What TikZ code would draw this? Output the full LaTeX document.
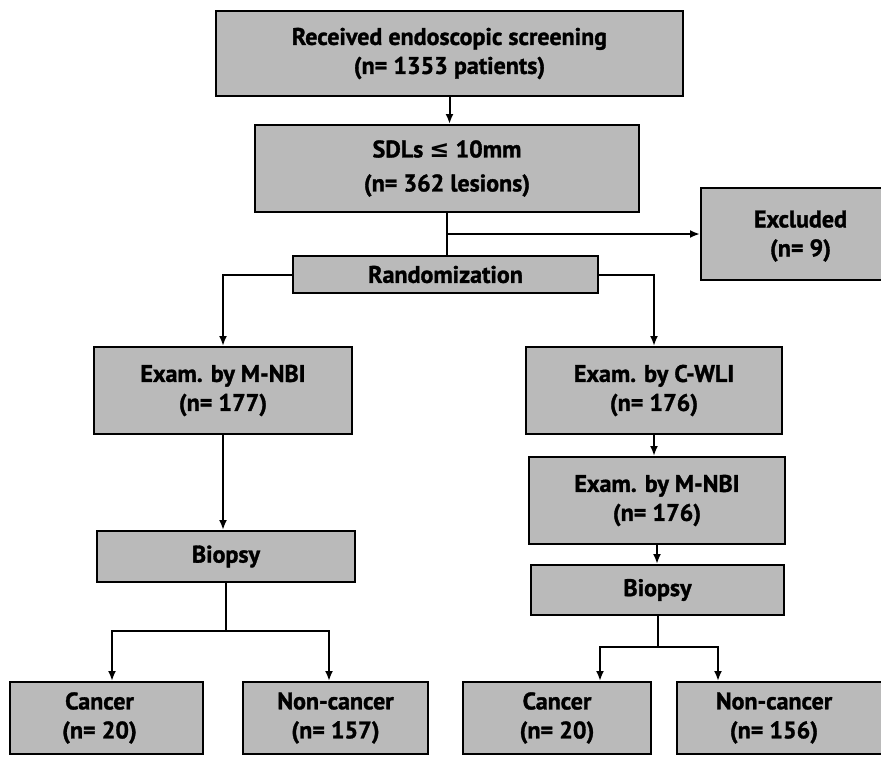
\documentclass[tikz,border=0pt]{standalone}
\usepackage{fontspec}
\setmainfont{PT Sans}[BoldFeatures={FakeBold=1.3}]
\newfontfamily\dvsans{DejaVu Sans}
\usepackage{tikz}
\usetikzlibrary{arrows.meta,positioning,calc}

\begin{document}
\begin{tikzpicture}[x=1pt,y=-1pt,
	box/.style={draw=black,line width=2pt,fill=black!27,align=center,
		inner sep=0pt,font=\fontsize{24}{29}\selectfont\bfseries},
	link/.style={line width=2pt},
	arr/.style={line width=2pt,-{Latex[length=10pt,width=8pt]}}]

	\useasboundingbox (0,0) rectangle (881,756);
	\fill[white] (0,0) rectangle (881,756);

	% top of the chart
	\node[box,minimum width=467pt,minimum height=85pt] (recv) at (449.5,53.5)
		{Received endoscopic screening\\(n= 1353 patients)};
	\node[box,minimum width=384pt,minimum height=87pt] (sdl) at (447,168.5)
		{SDLs {\dvsans\bfseries ≤} 10mm\\[5pt](n= 362 lesions)};
	\node[box,minimum width=189pt,minimum height=92pt] (excl) at (795.5,234)
		{\\[-8pt]\hspace*{10pt}Excluded\\\hspace*{10pt}(n= 9)};
	\node[box,minimum width=305pt,minimum height=37pt] (rand) at (445.5,274.5)
		{Randomization};

	% M-NBI arm
	\node[box,minimum width=258pt,minimum height=87pt] (mnbiL) at (223,390.5)
		{Exam. by M-NBI\\(n= 177)};
	\node[box,minimum width=258pt,minimum height=51pt] (biopL) at (226,556.5)
		{Biopsy};
	\node[box,minimum width=193pt,minimum height=72pt] (cancL) at (106.5,718)
		{\hspace*{-14pt}Cancer\\\hspace*{-14pt}(n= 20)};
	\node[box,minimum width=185pt,minimum height=72pt] (noncL) at (335.5,718)
		{Non-cancer\\(n= 157)};

	% C-WLI arm
	\node[box,minimum width=256pt,minimum height=87pt] (cwli) at (654,390.5)
		{Exam. by C-WLI\\(n= 176)};
	\node[box,minimum width=256pt,minimum height=87pt] (mnbiR) at (657,500.5)
		{Exam. by M-NBI\\(n= 176)};
	\node[box,minimum width=253pt,minimum height=50pt] (biopR) at (657.5,590)
		{Biopsy};
	\node[box,minimum width=188pt,minimum height=72pt] (cancR) at (557,718)
		{Cancer\\(n= 20)};
	\node[box,minimum width=213pt,minimum height=72pt] (noncR) at (783.5,718)
		{\hspace*{-19pt}Non-cancer\\\hspace*{-19pt}(n= 156)};

	\coordinate (split) at (sdl.south |- excl.west);
	\coordinate (forkL) at (226,631);
	\coordinate (forkR) at (657.5,647);

	% connectors
	\draw[arr] (recv.south) -- (recv.south |- sdl.north);
	\draw[link] (sdl.south) -- (sdl.south |- rand.north);
	\draw[arr] (split) -- (excl.west);
	\draw[arr] (rand.west) -| (mnbiL.north);
	\draw[arr] (rand.east) -| (cwli.north);

	\draw[arr] (mnbiL.south) -- (mnbiL.south |- biopL.north);
	\draw[link] (biopL.south) -- (forkL);
	\draw[arr] (forkL) -| ([xshift=5.5pt]cancL.north);
	\draw[arr] (forkL) -| ([xshift=-6.5pt]noncL.north);

	\draw[arr] (cwli.south) -- (cwli.south |- mnbiR.north);
	\draw[arr] (mnbiR.south) -- (mnbiR.south |- biopR.north);
	\draw[link] (biopR.south) -- (forkR);
	\draw[arr] (forkR) -| ([xshift=43pt]cancR.north);
	\draw[arr] (forkR) -| ([xshift=-65.5pt]noncR.north);

\end{tikzpicture}
\end{document}
